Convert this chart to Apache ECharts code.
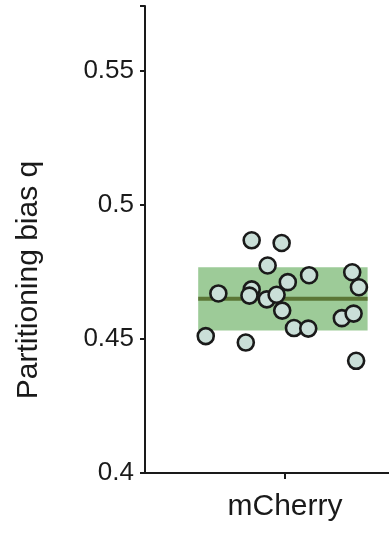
<!DOCTYPE html>
<html>
<head>
<meta charset="utf-8">
<style>
  html, body { margin: 0; padding: 0; background: #ffffff; }
  #chart { width: 389px; height: 533px; }
</style>
<script src="https://cdn.jsdelivr.net/npm/echarts@6/dist/echarts.min.js"></script>
</head>
<body>
<div id="chart"></div>
<script>
// Partitioning bias per cell (mCherry), with horizontal jitter positions
const category = 'mCherry';
const biasValues = [
  0.4867, 0.4857, 0.4773, 0.4737, 0.4748, 0.4692, 0.4711, 0.4669, 0.4684, 0.4661,
  0.4647, 0.4664, 0.4605, 0.4540, 0.4538, 0.4577, 0.4594, 0.4510, 0.4486, 0.4418
];
const jitterX = [
  0.881, 0.988, 0.938, 1.086, 1.240, 1.264, 1.010, 0.762, 0.881, 0.873,
  0.935, 0.970, 0.990, 1.032, 1.083, 1.203, 1.245, 0.717, 0.860, 1.254
];
const yTicks = [0.4, 0.45, 0.5, 0.55];
// horizontal extent of the summary band around the category centre
const bandX = [0.69, 1.295];

// mean and standard deviation of the measurements
const n = biasValues.length;
const mean = biasValues.reduce((a, b) => a + b, 0) / n;
const sd = Math.sqrt(biasValues.reduce((a, b) => a + (b - mean) * (b - mean), 0) / (n - 1));

const points = biasValues.map((v, i) => [jitterX[i], v]);

const axisColor = '#1a1a1a';
const font = 'Liberation Sans, Arial, Helvetica, sans-serif';

const chart = echarts.init(document.getElementById('chart'), null, { renderer: 'canvas' });

chart.setOption({
  backgroundColor: '#ffffff',
  animation: false,
  grid: { left: 145, right: 0, top: 6, bottom: 60 },
  xAxis: {
    type: 'value',
    min: 0.5,
    max: 1.3714,
    splitLine: { show: false },
    axisLine: { show: true, lineStyle: { color: axisColor, width: 2 } },
    axisTick: { show: true, customValues: [1], length: 6, lineStyle: { color: axisColor, width: 2 } },
    axisLabel: {
      customValues: [1],
      formatter: () => category,
      color: '#1a1a1a',
      fontFamily: font,
      fontSize: 30,
      margin: 19
    }
  },
  yAxis: {
    type: 'value',
    min: 0.4,
    max: 0.574,
    interval: 0.05,
    splitLine: { show: false },
    axisLine: { show: true, lineStyle: { color: axisColor, width: 2 } },
    axisTick: { show: true, length: 5, lineStyle: { color: axisColor, width: 2 } },
    axisLabel: {
      customValues: yTicks,
      formatter: (v) => String(+v.toFixed(2)),
      color: '#1a1a1a',
      fontFamily: font,
      fontSize: 26,
      margin: 11
    }
  },
  graphic: [{
    type: 'text',
    x: 29,
    y: 280,
    rotation: Math.PI / 2,
    style: {
      text: 'Partitioning bias q',
      fill: '#1a1a1a',
      font: '30px ' + font,
      textAlign: 'center',
      textVerticalAlign: 'middle'
    }
  }],
  series: [
    {
      // mean line with ±1 SD band
      type: 'line',
      data: [[bandX[0], mean], [bandX[1], mean]],
      symbol: 'none',
      lineStyle: { color: '#5b7636', width: 4 },
      z: 2,
      markArea: {
        silent: true,
        itemStyle: { color: '#9dcb98', opacity: 1 },
        data: [[
          { coord: [bandX[0], mean + sd] },
          { coord: [bandX[1], mean - sd] }
        ]]
      }
    },
    {
      type: 'scatter',
      data: points,
      symbol: 'circle',
      symbolSize: 16,
      itemStyle: { color: '#cadfd8', borderColor: '#1a1a1a', borderWidth: 2.6, opacity: 1 },
      z: 5
    }
  ]
});
</script>
</body>
</html>
